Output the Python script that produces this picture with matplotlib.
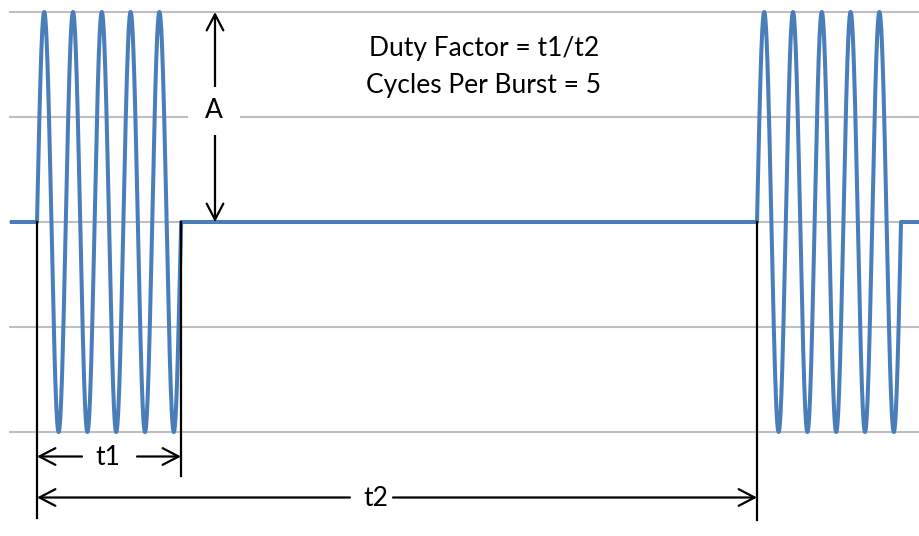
import numpy as np
import matplotlib
matplotlib.use("Agg")
import matplotlib.pyplot as plt
from matplotlib.patches import FancyArrowPatch, Rectangle

# ---------------- data ----------------
cycles_per_burst = 5            # cycles in each burst (t1 = 5 cycles)
burst_period = 25               # t2 in cycles
amplitude = 2                   # A, in grid units
burst_starts = [0, 25]          # start of each visible burst (cycles)
grid_levels = [-2, -1, 0, 1, 2]
title_lines = ["Duty Factor = t1/t2", "Cycles Per Burst = 5"]
t1_label = "t1"
t2_label = "t2"
amp_label = "A"

# ---------------- layout (pixel mapping) ----------------
W, H = 919, 536
PX_CYCLE = 28.8
X0 = 37
PX_UNIT = 105
Y0 = 222


def px_x(p):
    return (p - X0) / PX_CYCLE


def px_y(p):
    return (Y0 - p) / PX_UNIT


BLUE = "#4a7ebb"
GRID = "#bfbfbf"
FONT = ["Lato", "DejaVu Sans"]
FS = 19

fig = plt.figure(figsize=(W / 100, H / 100), dpi=100)
ax = fig.add_axes([0, 0, 1, 1])
ax.set_xlim(px_x(0), px_x(W))
ax.set_ylim(px_y(H), px_y(0))
ax.axis("off")

# grid lines
ax.hlines(grid_levels, px_x(9), px_x(W), colors=GRID, lw=1.5, zorder=1)

# waveform
t = np.linspace(px_x(12), px_x(W), 6000)
t = np.sort(np.concatenate([t, np.array(burst_starts, float),
                            np.array(burst_starts, float) + cycles_per_burst]))
v = np.zeros_like(t)
for s in burst_starts:
    m = (t >= s) & (t <= s + cycles_per_burst)
    v[m] = amplitude * np.sin(2 * np.pi * (t[m] - s))
ax.plot(t, v, color=BLUE, lw=2.9, zorder=2, solid_joinstyle="round")

# vertical markers
k = dict(color="black", lw=1.6, zorder=3)
ax.plot([0, 0], [0, px_y(518)], **k)
ax.plot([cycles_per_burst] * 2, [0, px_y(476)], **k)
ax.plot([burst_period] * 2, [0, px_y(520)], **k)


def arrow(a, b, style):
    ax.add_patch(FancyArrowPatch(a, b, arrowstyle=style, mutation_scale=10,
                                 shrinkA=0, shrinkB=0, color="black",
                                 lw=1.6, zorder=3))


AS_ = "->,head_length=1.15,head_width=0.6"
AD_ = "<->,head_length=1.15,head_width=0.6"

# t1 arrow
y1 = px_y(456.5)
arrow((px_x(82), y1), (0, y1), AS_)
arrow((px_x(137), y1), (cycles_per_burst, y1), AS_)
ax.text(px_x(107.5), px_y(465), t1_label, ha="center", va="baseline",
        fontsize=FS, family=FONT, zorder=5)

# t2 arrow
y2 = px_y(497.5)
arrow((px_x(350), y2), (0, y2), AS_)
arrow((px_x(393), y2), (burst_period, y2), AS_)
ax.text(px_x(376), px_y(506), t2_label, ha="center", va="baseline",
        fontsize=FS, family=FONT, zorder=5)

# amplitude arrow
xa = px_x(215)
arrow((xa, 0), (xa, amplitude), AD_)
ax.add_patch(Rectangle((px_x(188), px_y(135)), 52 / PX_CYCLE, 48 / PX_UNIT,
                       facecolor="white", edgecolor="none", zorder=4))
ax.text(px_x(214), px_y(118), amp_label, ha="center", va="baseline",
        fontsize=FS, family=FONT, zorder=5)

# title text
ax.text(px_x(484), px_y(56), title_lines[0], ha="center", va="baseline",
        fontsize=FS, family=FONT, zorder=5)
ax.text(px_x(484), px_y(93), title_lines[1], ha="center", va="baseline",
        fontsize=FS, family=FONT, zorder=5)

fig.savefig("out.png", dpi=100, facecolor="white")
